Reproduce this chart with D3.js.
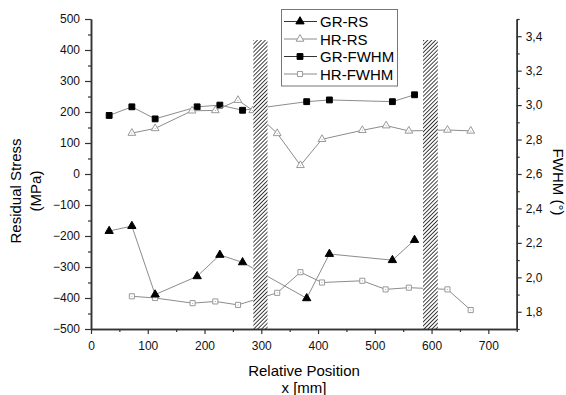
<!DOCTYPE html>
<html>
<head>
<meta charset="utf-8">
<script src="https://cdn.jsdelivr.net/npm/d3@7"></script>
<style>
  body { margin: 0; background: #fff; }
  svg { font-family: Arial, 'Liberation Sans', sans-serif; }
</style>
</head>
<body>
<div id="chart"></div>
<script>
// data
const grX = [32, 72, 113, 187, 227, 267, 380, 420, 531, 570];
const grRs = [-184, -168, -389, -330, -261, -285, -401, -258, -278, -213];
const grFwhm = [2.94, 2.99, 2.92, 2.99, 3.00, 2.97, 3.02, 3.03, 3.02, 3.06];

const hrRsX = [72, 113, 178, 219, 259, 285, 328, 369, 407, 478, 520, 560, 628, 669];
const hrRs = [132, 147, 204, 205, 238, 205, 131, 28, 112, 141, 156, 139, 142, 139];

const hrFwhmX = [72, 113, 179, 219, 259, 328, 369, 407, 478, 519, 560, 628, 669];
const hrFwhm = [1.89, 1.88, 1.85, 1.86, 1.84, 1.91, 2.03, 1.97, 1.98, 1.93, 1.94, 1.93, 1.81];

// hatched zones (x from, x to), top in MPa
const zones = [[286, 311], [585, 611]];
const zoneTop = 432;

const seriesNames = ['GR-RS', 'HR-RS', 'GR-FWHM', 'HR-FWHM'];

//set variables
const w = 566;
const h = 395;
const pl = 91, pr = 516.7, pt = 19, pb = 329;

const svg = d3.select('#chart')
    .append('svg')
    .attr('width', w)
    .attr('height', h);

const xScale = d3.scaleLinear().domain([0, 750]).range([pl, pr]);
const yScale = d3.scaleLinear().domain([-500, 500]).range([pb, pt]);
const y2Scale = d3.scaleLinear().domain([1.7, 3.5]).range([pb, pt]);

//hatch pattern
svg.append('defs').append('pattern')
    .attr('id', 'hatch')
    .attr('patternUnits', 'userSpaceOnUse')
    .attr('width', 2.8)
    .attr('height', 2.8)
    .attr('patternTransform', 'rotate(45)')
    .append('line')
    .attr('x1', 0).attr('y1', 0)
    .attr('x2', 0).attr('y2', 2.8)
    .style('stroke', '#000')
    .style('stroke-width', 1.5);

const lineColor = '#8c8c8c';

function drawSeries(xs, ys, yS, symbol, size, filled) {
    const pts = xs.map((x, i) => [xScale(x), yS(ys[i])]);
    svg.append('path')
        .attr('d', d3.line()(pts))
        .style('fill', 'none')
        .style('stroke', lineColor)
        .style('stroke-width', 1);
    const g = svg.append('g');
    g.selectAll('path')
        .data(pts)
        .enter()
        .append('path')
        .attr('transform', d => `translate(${d[0]},${d[1]})`)
        .attr('d', d3.symbol().type(symbol).size(size))
        .style('fill', filled ? '#000' : '#fff')
        .style('stroke', filled ? '#000' : '#999')
        .style('stroke-width', 1);
    if (!filled) {
        g.selectAll('circle')
            .data(pts)
            .enter()
            .append('circle')
            .attr('cx', d => d[0])
            .attr('cy', d => d[1])
            .attr('r', 0.5)
            .style('fill', '#999');
    }
}

drawSeries(grX, grFwhm, y2Scale, d3.symbolSquare, 34, true);
drawSeries(hrRsX, hrRs, yScale, d3.symbolTriangle, 26, false);
drawSeries(hrFwhmX, hrFwhm, y2Scale, d3.symbolSquare, 26, false);
drawSeries(grX, grRs, yScale, d3.symbolTriangle, 30, true);

//hatched zones
svg.append('g')
    .selectAll('rect')
    .data(zones)
    .enter()
    .append('rect')
    .attr('x', d => xScale(d[0]))
    .attr('width', d => xScale(d[1]) - xScale(d[0]))
    .attr('y', yScale(zoneTop))
    .attr('height', yScale(-500) - yScale(zoneTop))
    .style('fill', '#fff');
svg.append('g')
    .selectAll('rect')
    .data(zones)
    .enter()
    .append('rect')
    .attr('x', d => xScale(d[0]))
    .attr('width', d => xScale(d[1]) - xScale(d[0]))
    .attr('y', yScale(zoneTop))
    .attr('height', yScale(-500) - yScale(zoneTop))
    .style('fill', 'url(#hatch)');

//axes
const axisColor = '#333';
function styleAxis(g) {
    g.selectAll('.domain').style('stroke', axisColor).style('stroke-width', 1.5);
    g.selectAll('.tick line').style('stroke', axisColor).style('stroke-width', 1.2);
    g.selectAll('text').style('font-size', '12px').style('fill', '#111')
        .style('font-family', "Arial, 'Liberation Sans', sans-serif");
}

const xAxis = d3.axisBottom(xScale).tickValues(d3.range(0, 701, 100)).tickSize(5).tickPadding(7).tickSizeOuter(0);
const xMinor = d3.axisBottom(xScale).tickValues(d3.range(50, 751, 100)).tickSize(3).tickFormat('').tickSizeOuter(0);
const yAxis = d3.axisLeft(yScale).tickValues(d3.range(-500, 501, 100)).tickSize(6).tickPadding(5).tickSizeOuter(0);
const yMinor = d3.axisLeft(yScale).tickValues(d3.range(-450, 451, 100)).tickSize(3).tickFormat('').tickSizeOuter(0);
const y2Axis = d3.axisRight(y2Scale).tickValues(d3.range(1.8, 3.45, 0.2)).tickSize(5).tickPadding(4).tickSizeOuter(0)
    .tickFormat(d => d.toFixed(1).replace('.', ','));
const y2Minor = d3.axisRight(y2Scale).tickValues(d3.range(1.7, 3.55, 0.2)).tickSize(3).tickFormat('').tickSizeOuter(0);

svg.append('g').attr('transform', `translate(0,${pb})`).call(xMinor).call(styleAxis);
svg.append('g').attr('transform', `translate(0,${pb})`).call(xAxis).call(styleAxis);
svg.append('g').attr('transform', `translate(${pl},0)`).call(yMinor).call(styleAxis);
svg.append('g').attr('transform', `translate(${pl},0)`).call(yAxis).call(styleAxis);
svg.append('g').attr('transform', `translate(${pr},0)`).call(y2Minor).call(styleAxis);
svg.append('g').attr('transform', `translate(${pr},0)`).call(y2Axis).call(styleAxis);

//axis titles
svg.append('text')
    .attr('transform', 'translate(21,191) rotate(-90)')
    .attr('text-anchor', 'middle')
    .style('font-size', '15px')
    .text('Residual Stress');
svg.append('text')
    .attr('transform', 'translate(41,191) rotate(-90)')
    .attr('text-anchor', 'middle')
    .style('font-size', '15px')
    .text('(MPa)');
svg.append('text')
    .attr('transform', 'translate(553,182) rotate(90)')
    .attr('text-anchor', 'middle')
    .style('font-size', '15px')
    .text('FWHM (°)');
svg.append('text')
    .attr('x', 304)
    .attr('y', 376)
    .attr('text-anchor', 'middle')
    .style('font-size', '15px')
    .text('Relative Position');
svg.append('text')
    .attr('x', 304)
    .attr('y', 393)
    .attr('text-anchor', 'middle')
    .style('font-size', '15px')
    .text('x [mm]');

//legend
const legend = svg.append('g');
legend.append('rect')
    .attr('x', 281.5).attr('y', 9.5)
    .attr('width', 116).attr('height', 76.5)
    .style('fill', '#fff')
    .style('stroke', '#777')
    .style('stroke-width', 1);
const legSym = [
    [d3.symbolTriangle, 30, true],
    [d3.symbolTriangle, 26, false],
    [d3.symbolSquare, 34, true],
    [d3.symbolSquare, 26, false]
];
seriesNames.forEach((name, i) => {
    const yy = 21.5 + i * 17.5;
    legend.append('line')
        .attr('x1', 284).attr('x2', 317)
        .attr('y1', yy).attr('y2', yy)
        .style('stroke', legSym[i][2] ? '#333' : lineColor);
    legend.append('path')
        .attr('transform', `translate(300,${yy})`)
        .attr('d', d3.symbol().type(legSym[i][0]).size(legSym[i][1]))
        .style('fill', legSym[i][2] ? '#000' : '#fff')
        .style('stroke', legSym[i][2] ? '#000' : '#999');
    legend.append('text')
        .attr('x', 320)
        .attr('y', yy + 5.5)
        .style('font-size', '15px')
        .text(name);
});
</script>
</body>
</html>
